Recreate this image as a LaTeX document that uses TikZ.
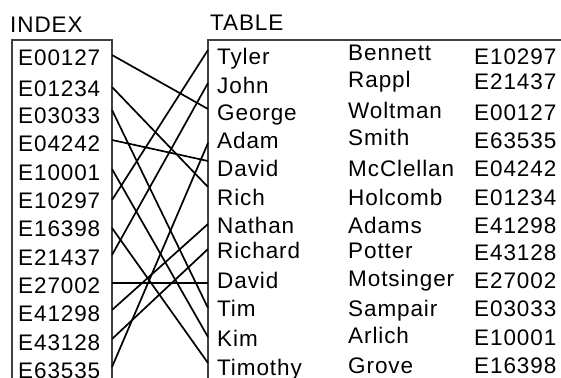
\documentclass[tikz,border=0pt]{standalone}
\usepackage{fontspec}
\setmainfont{Liberation Sans}[LetterSpace=4]
\tikzset{
  txt/.style={anchor=west,inner sep=0pt,text height=16pt,text depth=0pt,font=\fontsize{22.5}{24}\selectfont},
  boxline/.style={line width=1.9pt,draw=black!75},
  link/.style={line width=1.7pt,draw=black},
}
\begin{document}
\begin{tikzpicture}[x=1pt,y=-1pt]
\useasboundingbox (0,0) rectangle (561,377);
% boxes
\draw[boxline] (12,380) -- (12,40) -- (112,40) -- (112,380);
\draw[boxline] (208,380) -- (208,40) -- (565,40);
% titles
\node[txt] (idx) at (10,25) {INDEX};
\node[txt] (tbl) at (210,23) {TABLE};
% index entries
\foreach \n/\y [count=\k from 0] in {E00127/58,E01234/88,E03033/115,E04242/143,E10001/172,E10297/200,E16398/228,E21437/257,E27002/285,E41298/313,E43128/342,E63535/370}
  \node[txt] (ix\k) at (18,\y) {\n};
% table rows
\foreach \f/\fy/\l/\ly/\e/\ey [count=\k from 0] in {
  Tyler/57/Bennett/53/E10297/57,
  John/85/Rappl/80/E21437/82,
  George/113/Woltman/110/E00127/112,
  Adam/140/Smith/137/E63535/140,
  David/168/McClellan/168/E04242/168,
  Rich/197/Holcomb/197/E01234/197,
  Nathan/225/Adams/225/E41298/225,
  Richard/250/Potter/250/E43128/252,
  David/280/Motsinger/278/E27002/280,
  Tim/308/Sampair/308/E03033/308,
  Kim/338/Arlich/335/E10001/337,
  Timothy/367/Grove/365/E16398/365}
{
  \node[txt] (tf\k) at (217,\fy) {\f};
  \node[txt] (tl\k) at (348,\ly) {\l};
  \node[txt] (te\k) at (474,\ey) {\e};
}
% connector end points
\foreach \y [count=\k from 0] in {55,87,110,140,169,200,228,255,283,310,339,367}
  \coordinate (i\k) at (112,\y);
\foreach \y [count=\k from 0] in {50,83,109,143,161,187,224,249,283,308,337,363}
  \coordinate (t\k) at (208,\y);
% connectors
\foreach \a/\b in {0/2,1/5,2/9,3/4,4/10,5/0,6/11,7/1,8/8,9/6,10/7,11/3}
  \draw[link] (i\a) -- (t\b);
\end{tikzpicture}
\end{document}
